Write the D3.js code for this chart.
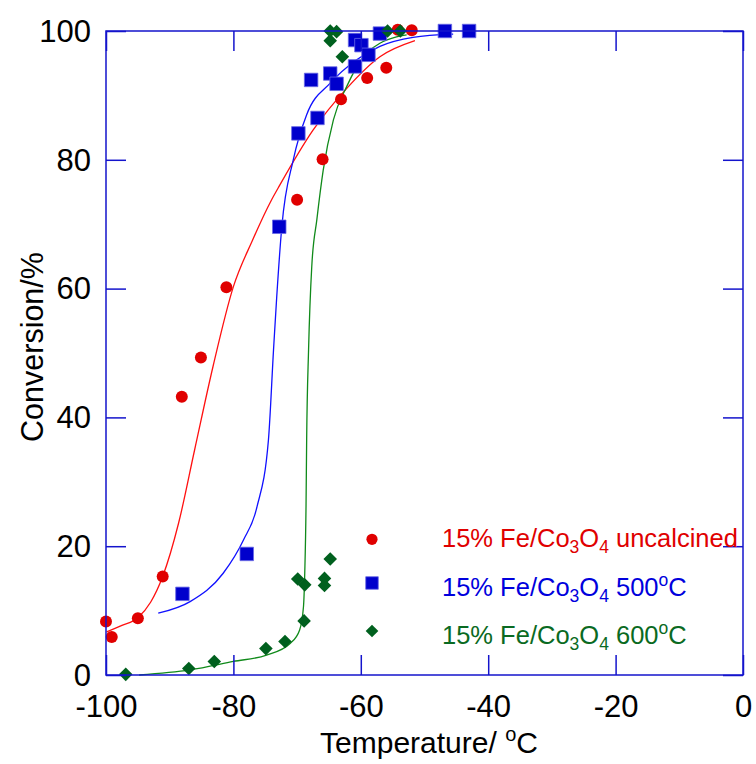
<!DOCTYPE html>
<html><head><meta charset="utf-8">
<script src="https://cdn.jsdelivr.net/npm/d3@7/dist/d3.min.js"></script>
<style>
html,body{margin:0;padding:0;background:#fff;}
svg{display:block;font-family:"Liberation Sans",Arial,Helvetica,sans-serif;}
</style></head>
<body>
<svg id="chart" width="756" height="764"></svg>
<script>
// ---- data (temperature °C, conversion %) ----
const xTicks = [-100, -80, -60, -40, -20, 0];
const yTicks = [0, 20, 40, 60, 80, 100];

const uncalcinedPts = [[-100,8.3],[-99.1,5.9],[-95.0,8.8],[-91.1,15.3],[-88.1,43.2],[-85.1,49.3],[-81.1,60.2],
  [-70.0,73.8],[-66.0,80.1],[-63.1,89.4],[-59.0,92.7],[-56.0,94.3],[-54.2,100.2],[-52.0,100.1]];
const c500Pts = [[-88.0,12.6],[-77.9,18.8],[-72.8,69.6],[-69.8,84.1],[-66.8,86.5],[-67.8,92.4],[-64.8,93.4],
  [-63.8,91.8],[-60.9,98.6],[-59.9,97.8],[-60.9,94.5],[-58.8,96.3],[-57.0,99.6],[-46.8,100],[-43.0,100]];
const c600Pts = [[-96.9,0.1],[-87.0,1.0],[-83.0,2.1],[-74.9,4.1],[-71.9,5.2],[-68.9,8.4],[-69.9,14.9],[-68.8,14.0],
  [-65.7,15.0],[-65.7,13.9],[-64.8,18.0],[-64.8,100],[-63.8,99.9],[-64.8,98.5],[-62.9,96.0],[-55.8,100],[-53.8,100]];

const uncalcinedFit = [[-99.9,6.7],[-97.5,7.7],[-95.0,8.9],[-93.0,11.3],[-91.1,15.3],[-88.6,23.6],[-86.1,34.9],[-83.2,47.9],
  [-80.0,60.3],[-77.0,67.5],[-74.0,73.8],[-72.7,76.1],[-67.5,84.6],[-62.2,91.1],[-57.0,96.0],[-51.5,98.5]];
const c500Fit = [[-91.8,9.6],[-86.8,11.4],[-81.6,15.8],[-78.4,21.0],[-76.3,26.1],[-74.5,36.5],[-73.7,50.5],[-73.2,58.7],
  [-72.4,69.6],[-70.6,80.0],[-68.5,87.0],[-64.8,91.9],[-60.7,95.5],[-57.0,97.6],[-51.8,99.0],[-45.5,99.5]];
const c600Fit = [[-94.8,0],[-86.8,0.8],[-80.0,2.1],[-74.8,3.1],[-71.1,4.9],[-69.6,7.0],[-69.0,10.6],[-68.8,15.8],
  [-68.6,26.1],[-68.5,36.5],[-68.2,50.5],[-67.7,63.4],[-66.9,70.7],[-65.9,78.4],[-64.3,86.2],[-62.2,91.4],
  [-59.6,96.0],[-57.0,98.1],[-54.4,99.1],[-52.8,99.4]];

const legendLabels = [
  {pre:"15% Fe/Co", s1:"3", mid:"O", s2:"4", post:" uncalcined", sup:false},
  {pre:"15% Fe/Co", s1:"3", mid:"O", s2:"4", post:" 500", sup:true},
  {pre:"15% Fe/Co", s1:"3", mid:"O", s2:"4", post:" 600", sup:true}
];

const markerColors = ["#e00000", "#0000cc", "#00601e"];
const lineColors = ["#ff1010", "#1010ff", "#108a1a"];
const textColors = ["#e00000", "#0000dd", "#0a6a22"];
const axisColor = "#1414cc";

// ---- layout ----
const L = 106, R = 743, T = 31, B = 675;
const svg = d3.select("#chart");
const x = d3.scaleLinear().domain([-100, 0]).range([L, R]);
const y = d3.scaleLinear().domain([0, 100]).range([B, T]);

// curves
const line = d3.line().x(d => x(d[0])).y(d => y(d[1])).curve(d3.curveMonotoneX);
[uncalcinedFit, c500Fit, c600Fit].forEach((fit, i) => {
  svg.append("path").attr("d", line(fit)).attr("fill", "none")
    .attr("stroke", lineColors[i]).attr("stroke-width", 1.3);
});

// markers
const sq = d3.symbol().type(d3.symbolSquare);
function drawMarker(g, kind, cx, cy, color, scale) {
  if (kind === 0) {
    g.append("circle").attr("cx", cx).attr("cy", cy).attr("r", 6 * scale).attr("fill", color);
  } else if (kind === 1) {
    g.append("path").attr("d", sq.size(13.5 * 13.5 * scale * scale)()).attr("transform", `translate(${cx},${cy})`)
      .attr("fill", color).attr("stroke", "#6a6ae6").attr("stroke-width", 0.8);
  } else {
    g.append("path").attr("d", sq.size(9.6 * 9.6 * scale * scale)()).attr("transform", `translate(${cx},${cy}) rotate(45)`)
      .attr("fill", color);
  }
}
const mg = svg.append("g");
[uncalcinedPts, c500Pts, c600Pts].forEach((pts, i) => {
  pts.forEach(p => drawMarker(mg, i, x(p[0]), y(p[1]), markerColors[i], 1));
});

// frame + axes
svg.append("rect").attr("x", L).attr("y", T).attr("width", R - L).attr("height", B - T)
  .attr("fill", "none").attr("stroke", axisColor).attr("stroke-width", 1.5);

function styleAxis(g, showText) {
  g.select(".domain").remove();
  g.selectAll(".tick line").attr("stroke", axisColor).attr("stroke-width", 1.5);
  if (!showText) g.selectAll(".tick text").remove();
  else g.selectAll(".tick text").attr("fill", "#000").attr("font-size", 31)
      .attr("font-family", '"Liberation Sans", Arial, sans-serif');
}
const fmt = d => String(d);
const gB = svg.append("g").attr("transform", `translate(0,${B})`)
  .call(d3.axisBottom(x).tickValues(xTicks).tickSizeInner(-20).tickSizeOuter(0).tickFormat(fmt));
styleAxis(gB, true);
gB.selectAll(".tick text").attr("y", 42).attr("dy", 0);

const gT = svg.append("g").attr("transform", `translate(0,${T})`)
  .call(d3.axisTop(x).tickValues(xTicks).tickSizeInner(-20).tickSizeOuter(0).tickFormat(fmt));
styleAxis(gT, false);

const gL = svg.append("g").attr("transform", `translate(${L},0)`)
  .call(d3.axisLeft(y).tickValues(yTicks).tickSizeInner(-20).tickSizeOuter(0).tickFormat(fmt));
styleAxis(gL, true);
gL.selectAll(".tick text").attr("x", -15).attr("dy", "0.33em");

const gR = svg.append("g").attr("transform", `translate(${R},0)`)
  .call(d3.axisRight(y).tickValues(yTicks).tickSizeInner(-20).tickSizeOuter(0).tickFormat(fmt));
styleAxis(gR, false);

// axis titles
const xt = svg.append("text").attr("x", 429).attr("y", 753).attr("text-anchor", "middle")
  .attr("font-size", 30).attr("fill", "#000");
xt.append("tspan").text("Temperature/ ");
xt.append("tspan").attr("font-size", 20).attr("dy", -12).text("o");
xt.append("tspan").attr("dy", 12).text("C");

svg.append("text").attr("transform", "translate(43,347) rotate(-90)").attr("text-anchor", "middle")
  .attr("font-size", 30.5).attr("fill", "#000").text("Conversion/%");

// legend
const legSymY = [539.3, 583, 631];
const legTextY = [547, 596, 644];
legendLabels.forEach((lab, i) => {
  drawMarker(svg, i, 372, legSymY[i], markerColors[i], 0.93);
  const t = svg.append("text").attr("x", 442).attr("y", legTextY[i]).attr("font-size", 25.5).attr("fill", textColors[i]);
  t.append("tspan").text(lab.pre);
  t.append("tspan").attr("font-size", 17.5).attr("dy", 6).text(lab.s1);
  t.append("tspan").attr("dy", -6).text(lab.mid);
  t.append("tspan").attr("font-size", 17.5).attr("dy", 6).text(lab.s2);
  t.append("tspan").attr("dy", -6).text(lab.post);
  if (lab.sup) {
    t.append("tspan").attr("font-size", 17.5).attr("dy", -10).text("o");
    t.append("tspan").attr("dy", 10).text("C");
  }
});
</script>
</body></html>
